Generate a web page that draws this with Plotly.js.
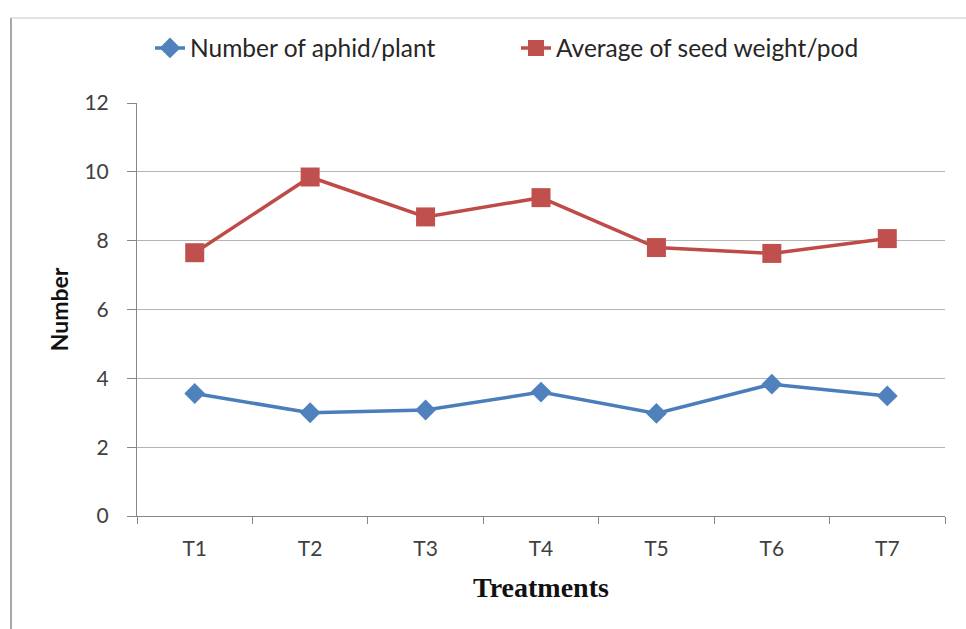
<!DOCTYPE html>
<html>
<head>
<meta charset="utf-8">
<script src="https://cdn.plot.ly/plotly-3.0.1.min.js"></script>
<style>html,body{margin:0;padding:0;background:#fff;}#chart{width:966px;height:629px;}</style>
</head>
<body>
<div id="chart"></div>
<script>
// Data
const treatments = ["T1", "T2", "T3", "T4", "T5", "T6", "T7"];
const aphidPerPlant = [3.56, 3.00, 3.08, 3.60, 2.98, 3.83, 3.49];
const seedWeightPerPod = [7.65, 9.85, 8.69, 9.25, 7.80, 7.63, 8.06];
const seriesNames = ["Number of aphid/plant", "Average of seed weight/pod"];
const yTicks = [0, 2, 4, 6, 8, 10, 12];

const W = 966, H = 629;
const M = {l: 137, r: 21, t: 103, b: 113};
const pw = W - M.l - M.r, ph = H - M.t - M.b;
const px = x => (x - M.l) / pw;
const py = y => (H - M.b - y) / ph;

const traces = [
  {
    x: treatments, y: aphidPerPlant, name: seriesNames[0], type: "scatter", mode: "lines+markers",
    line: {color: "#4A7EBB", width: 3.5},
    marker: {symbol: "diamond", size: 16, color: "#4F81BD", line: {width: 0}},
    legend: "legend"
  },
  {
    x: treatments, y: seedWeightPerPod, name: seriesNames[1], type: "scatter", mode: "lines+markers",
    line: {color: "#BE4B48", width: 3.5},
    marker: {symbol: "square", size: 19, color: "#C0504D", line: {width: 0}},
    legend: "legend2"
  }
];

const tickFont = {family: "Lato, 'Open Sans', sans-serif", size: 21, color: "#404040"};
const legFont = {family: "Lato, 'Open Sans', sans-serif", size: 24.5, color: "#262626"};

const layout = {
  width: W, height: H,
  margin: M,
  paper_bgcolor: "#ffffff", plot_bgcolor: "#ffffff",
  showlegend: true,
  legend: {orientation: "h", x: px(150), xanchor: "left", y: py(48), yanchor: "middle",
           font: legFont, bgcolor: "rgba(0,0,0,0)", borderwidth: 0},
  legend2: {orientation: "h", x: px(516), xanchor: "left", y: py(48), yanchor: "middle",
           font: legFont, bgcolor: "rgba(0,0,0,0)", borderwidth: 0},
  xaxis: {
    type: "category", categoryorder: "array", categoryarray: treatments,
    range: [-0.5, treatments.length - 0.5],
    showline: true, linecolor: "#868686", linewidth: 1,
    ticks: "outside", tickson: "boundaries", ticklen: 7, tickcolor: "#868686",
    showgrid: false, zeroline: false,
    tickfont: tickFont, ticklabelstandoff: 14,
    title: {text: "Treatments", font: {family: "'Liberation Serif', 'Times New Roman', serif", size: 28, color: "#111111", weight: "bold"}, standoff: 18},
    automargin: false, fixedrange: true
  },
  yaxis: {
    range: [0, 12], tickvals: yTicks, ticktext: yTicks.map(String),
    showline: true, linecolor: "#868686", linewidth: 1,
    ticks: "outside", ticklen: 9, tickcolor: "#868686",
    showgrid: true, gridcolor: "#b4b4b4", gridwidth: 1, zeroline: false,
    tickfont: tickFont, ticklabelstandoff: 14,
    title: {text: "Number", font: {family: "Lato, 'Open Sans', sans-serif", size: 23, color: "#111111", weight: "bold"}, standoff: 9},
    automargin: false, fixedrange: true
  },
  shapes: [
    {type: "line", xref: "paper", yref: "paper", x0: px(11), x1: px(11), y0: py(18), y1: py(640), line: {color: "#a8a8a8", width: 2}},
    {type: "line", xref: "paper", yref: "paper", x0: px(10), x1: px(980), y0: py(18), y1: py(18), line: {color: "#c8c8c8", width: 1}}
  ]
};

Plotly.newPlot("chart", traces, layout, {displayModeBar: false, staticPlot: true});
</script>
</body>
</html>
